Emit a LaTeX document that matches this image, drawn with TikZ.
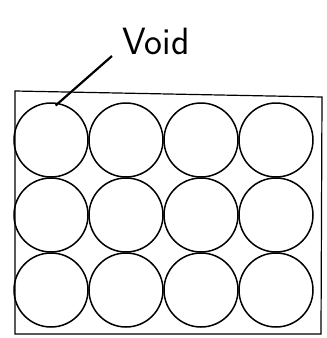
\documentclass[tikz,border=0pt]{standalone}
\begin{document}
\begin{tikzpicture}[x=1pt,y=-1pt,
  cell/.style={draw=black,line width=1.5pt,circle,minimum size=74pt,inner sep=0pt},
  frame/.style={draw=black,line width=1.2pt},
  label/.style={font=\sffamily\fontsize{38}{38}\selectfont,inner sep=0pt}]
\useasboundingbox (0,0) rectangle (327,338);
\draw[frame] (15,91) -- (322,97) -- (321,334) -- (15,334) -- cycle;
\foreach \r/\y in {1/140,2/215,3/290}{
  \foreach \c/\x in {1/51,2/126,3/201,4/276}{
    \node[cell] (c\r\c) at (\x,\y) {};
  }
}
\node[label,anchor=base west] (void) at (122,54) {Void};
\coordinate (tail) at (112,56);
\draw[line width=2.2pt] (tail) -- ([yshift=-3pt]c11.83);
\end{tikzpicture}
\end{document}
